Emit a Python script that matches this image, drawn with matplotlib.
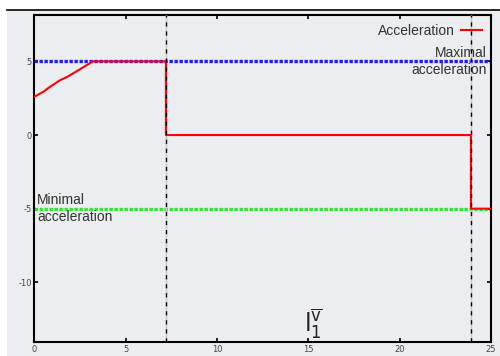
import matplotlib
matplotlib.use("Agg")
import matplotlib.pyplot as plt
from matplotlib.patches import Rectangle
from matplotlib.lines import Line2D

# ---- data ----
accel_x = [0.0, 0.5, 0.85, 1.4, 1.8, 2.5, 3.2, 7.2, 7.2, 23.9, 23.9, 25.0]
accel_y = [2.6, 2.95, 3.27, 3.72, 3.95, 4.47, 5.0, 5.0, 0.0, 0.0, -5.0, -5.0]
max_accel = 5.0
min_accel = -5.0
switch_times = [7.2, 23.9]
xticks = [0, 5, 10, 15, 20, 25]
yticks = [5, 0, -5, -10]
xlim = (0, 25)
ylim = (-14.05, 8.15)

plt.rcParams['mathtext.fontset'] = 'dejavusans'
plt.rcParams['axes.unicode_minus'] = False

fig = plt.figure(figsize=(5.0, 3.56), dpi=100)
fig.patch.set_facecolor('white')
bg = '#ecedf1'
# gray panel and top rule
fig.patches.append(Rectangle((7/500, 0), 1 - 7/500, 1 - 11/356, transform=fig.transFigure,
                             facecolor=bg, edgecolor='none', zorder=-10))
fig.lines.append(Line2D([7/500, 1], [1 - 10/356, 1 - 10/356], transform=fig.transFigure,
                        color='black', lw=1.2))

ax = fig.add_axes([34.4/500, 1 - 342/356, (491 - 34.4)/500, (342 - 15)/356])
ax.set_facecolor(bg)

ax.axhline(max_accel, color='#1a1aff', lw=2.4, ls=(0, (1.0, 0.5)), zorder=2)
ax.axhline(min_accel, color='#22ee22', lw=2.4, ls=(0, (1.0, 0.5)), zorder=2)

for t in switch_times:
    ax.axvline(t, color='#c8c8c8', lw=1.0, zorder=3)
    ax.axvline(t, color='black', lw=1.0, ls=(0, (3.0, 3.5)), zorder=4)

ax.plot(accel_x, accel_y, color='red', lw=1.5, label='Acceleration', zorder=3)

ax.set_xlim(*xlim)
ax.set_ylim(*ylim)
ax.set_xticks(xticks)
ax.set_yticks(yticks)
ax.tick_params(direction='in', length=3, width=1.2, top=True, right=True,
               labelsize=6, labelcolor='#444444', pad=2)
for s in ax.spines.values():
    s.set_linewidth(1.5)
    s.set_color('black')

leg = ax.legend(loc='upper right', frameon=False, markerfirst=False,
                handlelength=1.5, borderaxespad=0.25, handletextpad=0.45,
                prop={'family': 'Liberation Sans', 'size': 10})
for txt in leg.get_texts():
    txt.set_color('#333333')

ax.text(0.991, max_accel, 'Maximal\nacceleration', transform=ax.get_yaxis_transform(),
        ha='right', va='center', multialignment='right', fontsize=10,
        family='Liberation Sans', color='#333333', linespacing=1.3, zorder=6)
ax.text(0.006, min_accel, 'Minimal\nacceleration', transform=ax.get_yaxis_transform(),
        ha='left', va='center', multialignment='left', fontsize=10,
        family='Liberation Sans', color='#333333', linespacing=1.3, zorder=6)

ax.text(0.61, 0.055, r'$\mathrm{l}_{1}^{\overline{\mathrm{v}}}$', transform=ax.transAxes,
        ha='center', va='center', fontsize=17, color='#222222')

fig.savefig('out.png', dpi=100, facecolor=fig.get_facecolor())
